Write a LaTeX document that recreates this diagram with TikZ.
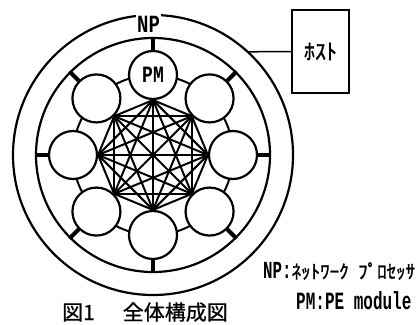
\documentclass[tikz,border=0pt]{standalone}
\usepackage{fontspec}
\usepackage{graphicx}
\newfontfamily\jp[FakeBold=1.5]{Noto Sans CJK JP}
\newfontfamily\jpc[FakeBold=0.8]{Noto Sans CJK JP}
\newfontfamily\mono{Liberation Mono}
\usetikzlibrary{calc}
\tikzset{
  bigring/.style={circle, draw, line width=2.2pt, inner sep=0pt},
  pmc/.style={circle, draw, line width=2.2pt, fill=white, minimum size=48pt, inner sep=0pt},
  tick/.style={line width=4pt},
  edge/.style={line width=2pt},
  txt/.style={inner sep=0pt}
}
\begin{document}
\begin{tikzpicture}
\useasboundingbox (0,0) rectangle (417pt,-324pt);
\coordinate (C) at (153pt,-155pt);
% outer and inner rings
\node[bigring, minimum size=280pt] (outer) at (C) {};
\node[bigring, minimum size=234pt] (inner) at (C) {};
% ring through PM centres
\node[circle, draw, line width=2pt, minimum size=160pt, inner sep=0pt] (ring) at (C) {};
% PM circles
\foreach \i in {0,...,7}{
  \pgfmathsetmacro\a{90+45*\i}
  \node[pmc] (p\i) at ($(C)+(\a:80pt)$) {};
}
\node[txt] (pmlabel) at (p0.center) {\scalebox{1}[1.3]{\fontsize{18}{18}\mono\bfseries PM}};
% ticks to inner ring
\foreach \i in {0,...,7}{
  \pgfmathsetmacro\a{90+45*\i}
  \draw[tick] (p\i.\a) -- (inner.\a);
}
% complete graph
\foreach \i in {0,...,6}{
  \pgfmathtruncatemacro\s{\i+1}
  \pgfmathtruncatemacro\ai{mod(270+45*\i,360)}
  \foreach \j in {\s,...,7}{
    \pgfmathtruncatemacro\aj{mod(270+45*\j,360)}
    \draw[edge] (p\i.\ai) -- (p\j.\aj);
  }
}
% NP label
\node[fill=white, inner xsep=1pt, inner ysep=2.5pt] (np) at (148.5pt,-24pt) {\scalebox{1}[1.3]{\fontsize{19}{19}\mono\bfseries NP}};
% host
\node[draw, line width=1.5pt, minimum width=57pt, minimum height=83pt, inner sep=0pt] (host) at (320.5pt,-51.5pt) {\fontsize{22}{22}\jp ﾎｽﾄ};
\draw[line width=1.5pt] (host.west) -- (outer.47.4);
% legend
\node[txt, anchor=west] (nptext) at (263pt,-271pt) {\scalebox{1}[1.55]{\fontsize{15.8}{16}\mono\bfseries NP:}{\fontsize{19}{19}\jp ﾈｯﾄﾜｰｸ}\hspace{9.5pt}{\fontsize{19}{19}\jp ﾌﾟﾛｾｯｻ}};
\node[txt, anchor=west] (pmtext) at (296pt,-301pt) {\scalebox{1}[1.55]{\fontsize{16}{16}\mono\bfseries PM:PE module}};
\node[txt, anchor=base west] (cap) at (62pt,-320pt) {\fontsize{21}{21}\jpc 図1\hspace{28pt}全体構成図};
\end{tikzpicture}
\end{document}
